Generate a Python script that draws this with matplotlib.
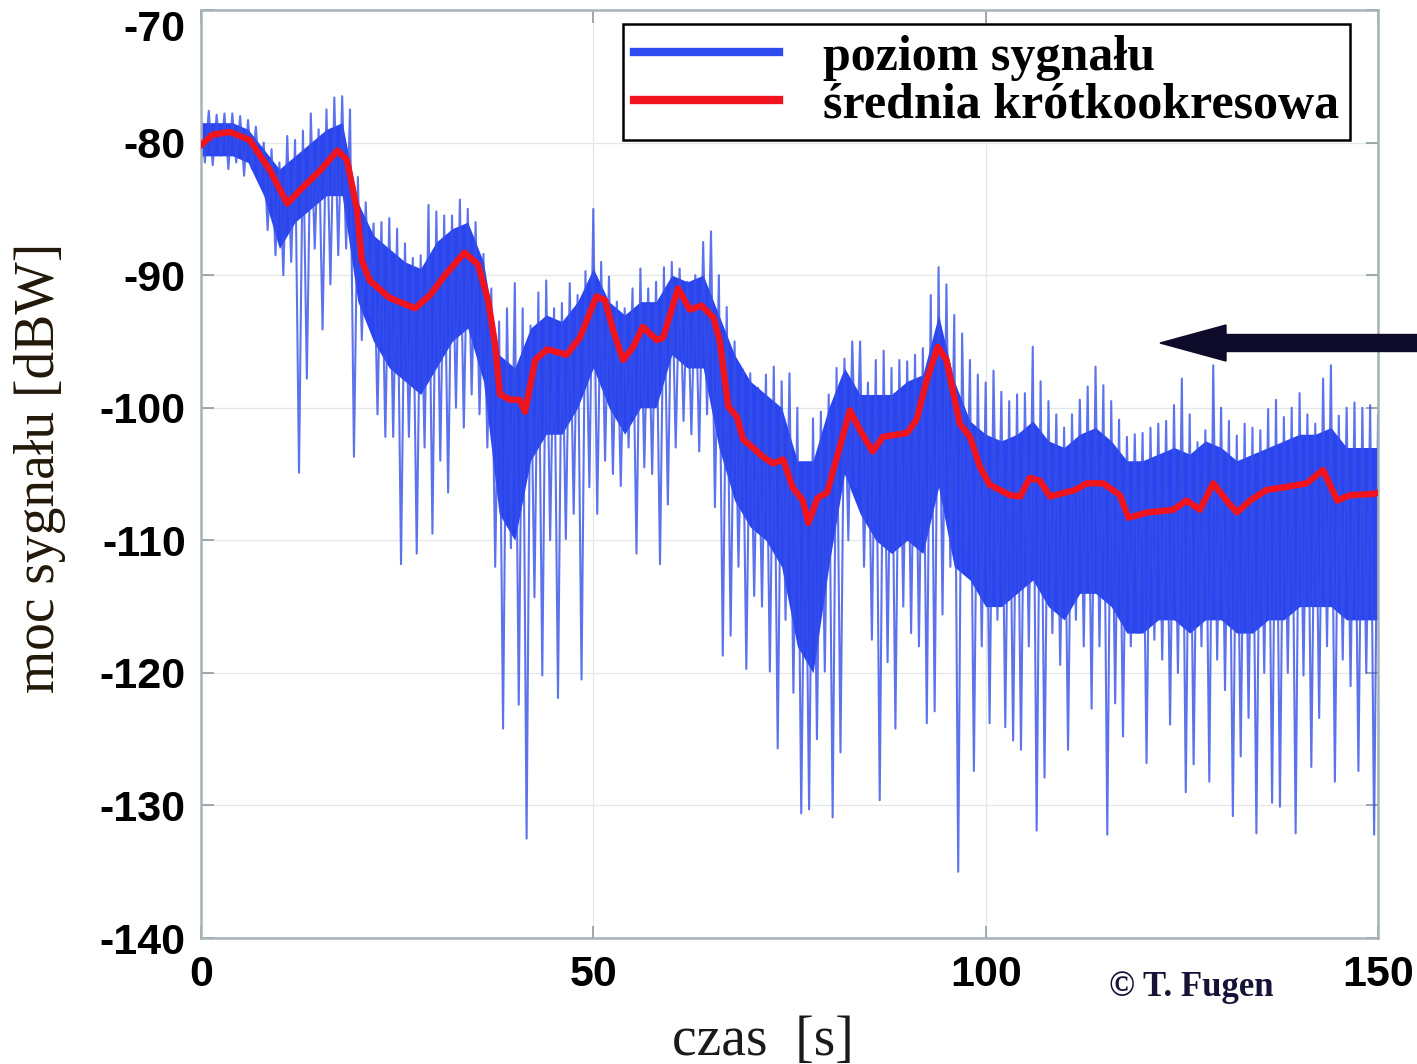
import numpy as np
import matplotlib
matplotlib.use("Agg")
import matplotlib.pyplot as plt
from matplotlib.patches import FancyArrow
from matplotlib.transforms import IdentityTransform

# --- data ---
# short-term mean (red), read at irregular times [s] -> [dBW]
t_avg = [0, 1.5, 3.7, 6.2, 8.8, 11.0, 12.6, 15.2, 17.4, 18.6,
         19.9, 20.5, 21.5, 24.0, 27.3, 29.2, 31.1, 33.6, 35.3, 36.6,
         37.5, 38.1, 39.4, 40.6, 41.3, 42.6, 44.1, 46.6, 48.3, 50.4,
         51.5, 52.5, 53.8, 55.1, 56.3, 58.1, 58.9, 60.8, 62.3, 63.8,
         65.3, 66.1, 67.2, 68.3, 69.1, 70.3, 71.6, 72.9, 74.2, 75.4,
         76.7, 77.4, 78.6, 79.8, 82.7, 84.0, 85.6, 86.9, 90.0, 91.2,
         92.5, 93.9, 95.0, 96.7, 98.0, 99.3, 100.5, 103.1, 104.4, 105.6,
         106.9, 108.2, 111.4, 112.9, 115.0, 117.1, 118.2, 120.6, 123.9, 125.6,
         127.3, 129.0, 130.7, 132.0, 133.7, 135.8, 138.1, 140.9, 143.0, 144.8,
         146.4, 149.4, 150]
avg = [-80.2, -79.4, -79.2, -79.8, -82.1, -84.6, -83.6, -82.1, -80.6, -81.3,
       -85.1, -88.9, -90.4, -91.7, -92.5, -91.5, -90.0, -88.3, -89.2, -91.9,
       -95.3, -99.0, -99.4, -99.4, -100.3, -96.4, -95.6, -96.0, -94.7, -91.6,
       -91.9, -94.1, -96.4, -95.4, -93.9, -94.9, -94.7, -91.0, -92.6, -92.3,
       -93.2, -94.9, -99.9, -100.7, -102.4, -103.0, -103.7, -104.2, -103.9, -106.0,
       -107.0, -108.7, -106.8, -106.4, -100.2, -101.7, -103.3, -102.2, -101.9, -100.9,
       -97.9, -95.4, -96.4, -101.2, -102.2, -104.5, -105.8, -106.6, -106.7, -105.3,
       -105.5, -106.7, -106.2, -105.7, -105.7, -106.6, -108.3, -107.9, -107.7, -107.0,
       -107.7, -105.7, -107.0, -107.9, -107.0, -106.2, -106.0, -105.7, -104.7, -107.0,
       -106.6, -106.5, -106.4]

# signal level (blue): highest and lowest value in each second, t = 0..150
sig_hi = [-78.0, -77.6, -77.9, -77.8, -77.8, -78.0, -78.3, -78.8, -80.0, -80.5,
          -81.5, -79.5, -79.8, -79.1, -77.8, -79.0, -77.5, -76.6, -76.5, -77.5,
          -82.6, -84.5, -86.1, -86.0, -85.7, -86.5, -87.6, -88.7, -88.5, -84.7,
          -85.2, -85.5, -85.5, -84.3, -85.0, -86.0, -88.4, -91.0, -93.5, -92.5,
          -90.6, -92.5, -93.8, -91.3, -90.4, -92.5, -92.1, -90.6, -91.5, -89.7,
          -85.0, -89.0, -90.1, -92.0, -92.5, -91.0, -89.5, -91.0, -90.5, -89.4,
          -89.0, -89.5, -90.5, -90.0, -87.5, -86.7, -90.0, -92.4, -95.0, -97.1,
          -97.4, -98.5, -97.5, -96.9, -98.0, -97.4, -100.0, -104.1, -100.8, -100.3,
          -99.0, -97.0, -96.3, -95.0, -95.0, -98.1, -96.4, -95.7, -97.0, -96.4,
          -96.5, -96.0, -95.5, -91.5, -89.4, -90.7, -93.0, -94.4, -96.4, -97.5,
          -98.1, -97.2, -98.8, -99.5, -99.0, -98.9, -95.4, -98.0, -99.5, -100.5,
          -101.5, -100.5, -99.4, -98.4, -96.9, -98.3, -99.5, -100.9, -102.2, -102.0,
          -101.9, -101.5, -101.2, -101.0, -99.8, -97.8, -100.5, -102.6, -101.7, -96.8,
          -100.0, -101.0, -102.1, -101.2, -101.5, -101.7, -100.1, -99.4, -100.7, -100.0,
          -98.9, -100.5, -101.2, -97.8, -96.8, -100.6, -100.0, -99.6, -100.0, -99.8,
          -100.5]
sig_lo = [-81.5, -81.7, -81.0, -82.0, -81.5, -82.5, -82.0, -83.0, -86.6, -88.5,
          -90.0, -89.0, -104.9, -97.8, -88.0, -94.1, -90.7, -88.5, -88.0, -103.7,
          -94.9, -93.0, -100.5, -102.2, -102.2, -111.8, -102.2, -111.0, -103.0, -109.5,
          -104.0, -106.4, -100.0, -101.5, -99.0, -100.5, -103.0, -112.0, -124.2, -110.6,
          -122.4, -132.5, -114.3, -120.2, -110.0, -121.9, -109.9, -108.0, -120.5, -106.0,
          -108.0, -104.0, -105.0, -105.9, -103.0, -111.0, -104.5, -105.0, -111.8, -107.3,
          -103.0, -101.0, -102.0, -103.3, -100.5, -107.5, -118.7, -117.2, -112.0, -119.7,
          -114.2, -115.0, -119.9, -125.7, -116.0, -121.5, -130.6, -130.3, -125.0, -119.9,
          -130.9, -126.0, -110.0, -106.0, -112.0, -117.5, -129.6, -119.2, -124.2, -115.0,
          -117.0, -118.0, -123.8, -122.9, -115.6, -112.0, -135.0, -112.2, -127.4, -118.0,
          -123.8, -116.0, -124.1, -125.1, -125.8, -118.0, -131.9, -127.9, -117.0, -119.4,
          -125.8, -116.0, -118.0, -122.7, -118.0, -132.2, -122.3, -124.8, -118.0, -117.0,
          -126.8, -117.5, -119.0, -123.9, -120.0, -129.0, -126.9, -118.0, -128.2, -119.0,
          -121.3, -130.8, -126.3, -123.4, -132.1, -120.0, -129.8, -130.1, -120.0, -132.1,
          -120.2, -127.1, -123.4, -118.0, -128.2, -119.0, -121.0, -127.4, -120.0, -132.2,
          -123.2]

# dense part of the blue trace, every 2 s, t = 0..150
core_hi = [-78.5, -78.5, -78.5, -79.0, -80.5, -82.0, -81.0, -80.0, -79.0, -78.5,
           -84.5, -87.0, -88.0, -89.0, -89.5, -87.5, -86.5, -86.0, -89.0, -96.0,
           -97.0, -94.0, -93.0, -93.5, -92.0, -89.5, -92.0, -93.0, -92.0, -92.0,
           -90.0, -90.5, -90.0, -93.0, -96.0, -98.0, -99.0, -100.0, -104.0, -104.0,
           -100.0, -97.0, -99.0, -99.0, -99.0, -98.0, -97.5, -93.0, -98.0, -101.0,
           -102.0, -102.5, -102.0, -101.0, -102.5, -103.0, -102.0, -101.5, -102.5, -104.0,
           -104.0, -103.5, -103.0, -103.5, -102.5, -103.0, -104.0, -103.5, -103.0, -102.5,
           -102.0, -102.0, -101.5, -103.0, -103.0, -103.0]
core_lo = [-81.0, -81.0, -81.0, -81.5, -84.0, -88.0, -86.0, -85.0, -84.0, -84.0,
           -92.0, -95.0, -97.0, -98.0, -99.0, -97.0, -95.0, -94.0, -98.0, -108.0,
           -110.0, -104.0, -102.0, -102.0, -100.0, -97.0, -100.0, -102.0, -100.0, -100.0,
           -96.0, -97.0, -97.0, -103.0, -107.0, -109.0, -110.0, -112.0, -118.0, -120.0,
           -112.0, -105.0, -108.0, -110.0, -111.0, -110.0, -111.0, -106.0, -112.0, -113.0,
           -115.0, -115.0, -114.0, -113.0, -115.0, -116.0, -114.0, -114.0, -115.0, -117.0,
           -117.0, -116.0, -116.0, -117.0, -116.0, -116.0, -117.0, -117.0, -116.0, -116.0,
           -115.0, -115.0, -115.0, -116.0, -116.0, -116.0]

x_ticks = [0, 50, 100, 150]
y_ticks = [-140, -130, -120, -110, -100, -90, -80, -70]
labels = ["poziom sygnału", "średnia krótkookresowa"]

t_sec = np.arange(len(sig_hi))
t_core = np.arange(0, 151, 2)

# trace that swings from each second's maximum to its minimum
trace_t = np.column_stack([t_sec, t_sec + 0.5]).ravel()[:-1]
trace_v = np.column_stack([sig_hi, sig_lo]).ravel()[:-1]

# --- figure ---
fig = plt.figure(figsize=(14.17, 10.64), dpi=100)
ax = fig.add_axes([0.1418, 0.1184, 0.8307, 0.8722])

blue = '#2a45f0'
ax.fill_between(t_core, core_lo, core_hi, color=blue, lw=0, zorder=2)
ax.plot(trace_t, trace_v, color='#3550e8', lw=1.5, alpha=0.8, zorder=2)
line_b, = ax.plot([], [], color='#2e4bf0', lw=6)
line_r, = ax.plot(t_avg, avg, color='#f0141e', lw=4.6, solid_joinstyle='round', zorder=3)

ax.set_xlim(0, 150)
ax.set_ylim(-140, -70)
ax.set_xticks(x_ticks)
ax.set_yticks(y_ticks)
ax.set_xticklabels([str(v) for v in x_ticks], fontweight='bold', family='Liberation Sans', fontsize=31)
ax.set_yticklabels([str(v) for v in y_ticks], fontweight='bold', family='Liberation Sans', fontsize=31)
ax.get_yticklabels()[-1].set_verticalalignment('top')
ax.tick_params(direction='in', length=9, width=1.2, color='#8d9ba1',
               top=True, right=True)
ax.tick_params(axis='y', pad=11)
ax.tick_params(axis='x', pad=12)
ax.grid(color='#e4e7e9', lw=0.9, zorder=0)
ax.set_axisbelow(True)
for sp in ax.spines.values():
    sp.set_color('#a7b2b6')
    sp.set_linewidth(1.8)

leg = ax.legend([line_b, line_r], labels, loc='upper right', bbox_to_anchor=(0.976, 0.985),
                prop={'family': 'Liberation Serif', 'weight': 'bold', 'size': 36},
                handlelength=2.9, handletextpad=0.88, labelspacing=0.04,
                borderpad=0.22, borderaxespad=0, fancybox=False, framealpha=1)
leg.get_frame().set_edgecolor('black')
leg.get_frame().set_linewidth(1.8)
for h in leg.get_lines():
    h.set_linewidth(6)

fig.text(0.028, 0.56, "moc sygnału [dBW]", rotation=90, ha='center', va='center',
         family='Liberation Serif', fontsize=40, color='#22180a')
fig.text(763 / 1417, 0.022, "czas  [s]", ha='center', va='center',
         family='Liberation Serif', fontsize=40, color='#1a1a1a')
fig.text(1191 / 1417, 1 - 988 / 1064, "© T. Fugen", ha='center', va='center',
         family='Liberation Serif', fontweight='bold', fontsize=25, color='#161436')

fig.add_artist(FancyArrow(1417, 1064 - 343, -257, 0, width=17, head_width=36,
                          head_length=66, length_includes_head=True,
                          color='#0d0b29', transform=IdentityTransform()))

fig.savefig('out.png', dpi=100)
